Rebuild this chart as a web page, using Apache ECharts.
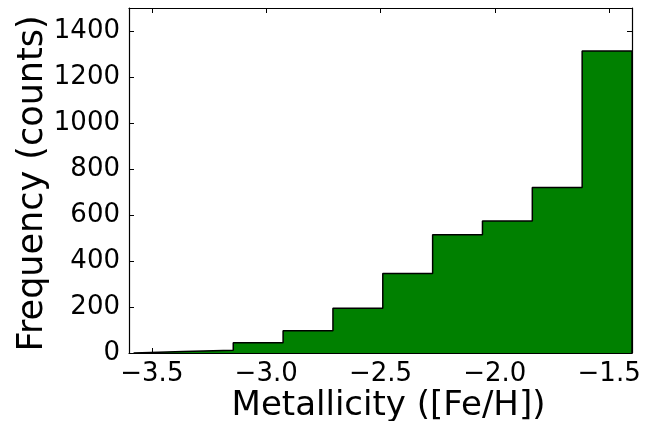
<!DOCTYPE html>
<html>
<head>
<meta charset="utf-8">
<script src="https://cdn.jsdelivr.net/npm/echarts@6/dist/echarts.min.js"></script>
<style>
html,body{margin:0;padding:0;background:#fff;}
#chart{width:650px;height:421px;}
</style>
</head>
<body>
<div id="chart"></div>
<script>
// Histogram bin edges ([Fe/H]) and counts
const binEdges = [-3.58, -3.362, -3.144, -2.926, -2.708, -2.49, -2.272, -2.054, -1.836, -1.618, -1.40];
const counts = [7, 12, 45, 97, 195, 346, 514, 574, 720, 1313];
const xTicks = [-3.5, -3.0, -2.5, -2.0, -1.5];
const yTicks = [0, 200, 400, 600, 800, 1000, 1200, 1400];
const xTitle = 'Metallicity ([Fe/H])';
const yTitle = 'Frequency (counts)';

// step outline points built from edges and counts
const stepPts = [[binEdges[0], 0]];
for (let i = 0; i < counts.length; i++) {
  stepPts.push([binEdges[i], counts[i]]);
  stepPts.push([binEdges[i + 1], counts[i]]);
}
stepPts.push([binEdges[binEdges.length - 1], 0]);

const FONT = 'DejaVu Sans';
const fmtX = v => Number(v).toFixed(1).replace('-', '\u2212');
const fmtY = v => String(v);

function xAx(pos, show) {
  return {
    type: 'value', position: pos, min: -3.6, max: -1.4,
    axisLine: { show: true, onZero: false, lineStyle: { color: '#000', width: 1.2 } },
    axisTick: { show: true, inside: true, length: 5, customValues: xTicks, lineStyle: { color: '#000', width: 1 } },
    axisLabel: { show: show, customValues: xTicks, formatter: fmtX, color: '#000', fontFamily: FONT, fontSize: 26, margin: 8 },
    splitLine: { show: false },
    name: show ? xTitle : '', nameLocation: 'middle', nameGap: 36, nameMoveOverlap: false,
    nameTextStyle: { color: '#000', fontFamily: FONT, fontSize: 34, padding: [0, 0, 0, 16] }
  };
}
function yAx(pos, show) {
  return {
    type: 'value', position: pos, min: 0, max: 1500,
    axisLine: { show: true, onZero: false, lineStyle: { color: '#000', width: 1.2 } },
    axisTick: { show: true, inside: true, length: 5, customValues: yTicks, lineStyle: { color: '#000', width: 1 } },
    axisLabel: { show: show, customValues: yTicks, formatter: fmtY, color: '#000', fontFamily: FONT, fontSize: 26, margin: 9 },
    splitLine: { show: false },
    name: show ? yTitle : '', nameLocation: 'middle', nameGap: 79, nameRotate: 90, nameMoveOverlap: false,
    nameTextStyle: { color: '#000', fontFamily: FONT, fontSize: 35, padding: [0, 6, 0, 0] }
  };
}

const chart = echarts.init(document.getElementById('chart'), null, { renderer: 'canvas' });
chart.setOption({
  animation: false,
  backgroundColor: '#fff',
  grid: { left: 129, right: 18, top: 8, bottom: 68, containLabel: false, outerBoundsMode: 'none' },
  xAxis: [xAx('bottom', true), xAx('top', false)],
  yAxis: [yAx('left', true), yAx('right', false)],
  series: [{
    type: 'line',
    data: stepPts,
    symbol: 'none',
    lineStyle: { color: '#000', width: 1.5 },
    areaStyle: { color: '#008000', opacity: 1 },
    z: 1
  }]
});
</script>
</body>
</html>
